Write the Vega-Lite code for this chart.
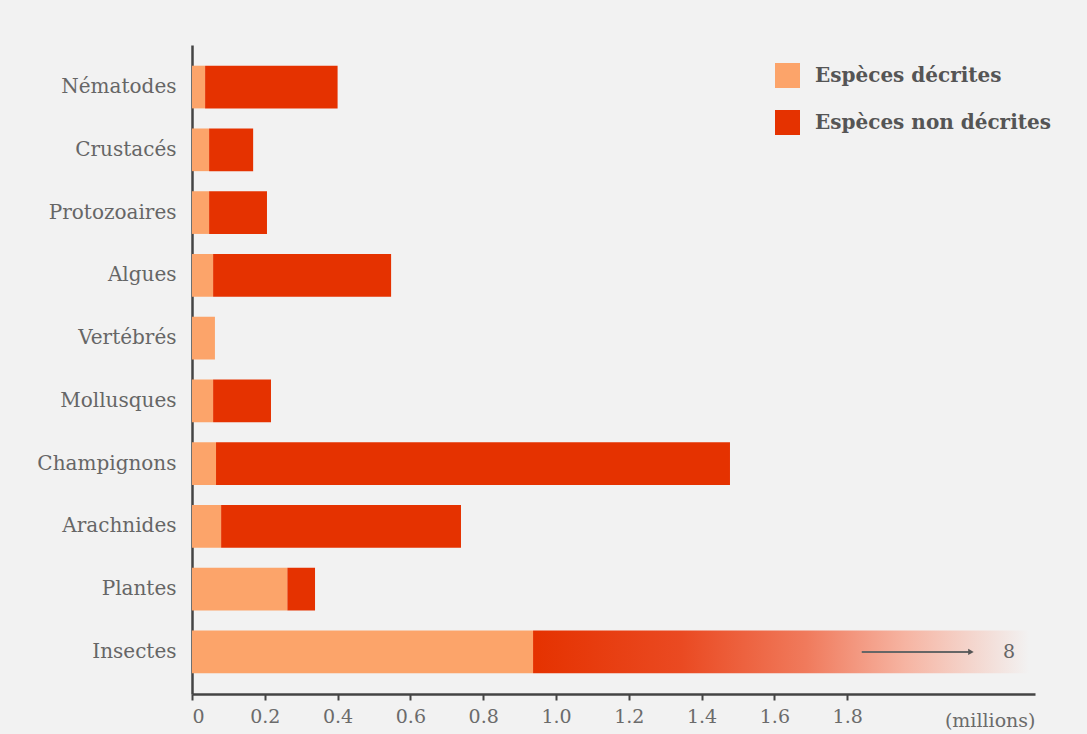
{
  "$schema": "https://vega.github.io/schema/vega-lite/v6.json",
  "width": 843,
  "height": 649,
  "autosize": "none",
  "padding": {"left": 192, "top": 45, "right": 52, "bottom": 40},
  "background": "#f2f2f2",
  "config": {
    "view": {"stroke": null},
    "font": "DejaVu Serif"
  },
  "datasets": {
    "species": [
      {"category": "Nématodes", "type": "Espèces décrites", "value": 0.036},
      {"category": "Nématodes", "type": "Espèces non décrites", "value": 0.364},
      {"category": "Crustacés", "type": "Espèces décrites", "value": 0.047},
      {"category": "Crustacés", "type": "Espèces non décrites", "value": 0.121},
      {"category": "Protozoaires", "type": "Espèces décrites", "value": 0.047},
      {"category": "Protozoaires", "type": "Espèces non décrites", "value": 0.159},
      {"category": "Algues", "type": "Espèces décrites", "value": 0.058},
      {"category": "Algues", "type": "Espèces non décrites", "value": 0.489},
      {"category": "Vertébrés", "type": "Espèces décrites", "value": 0.063},
      {"category": "Vertébrés", "type": "Espèces non décrites", "value": 0.0},
      {"category": "Mollusques", "type": "Espèces décrites", "value": 0.058},
      {"category": "Mollusques", "type": "Espèces non décrites", "value": 0.159},
      {"category": "Champignons", "type": "Espèces décrites", "value": 0.066},
      {"category": "Champignons", "type": "Espèces non décrites", "value": 1.412},
      {"category": "Arachnides", "type": "Espèces décrites", "value": 0.08},
      {"category": "Arachnides", "type": "Espèces non décrites", "value": 0.659},
      {"category": "Plantes", "type": "Espèces décrites", "value": 0.262},
      {"category": "Plantes", "type": "Espèces non décrites", "value": 0.076},
      {"category": "Insectes", "type": "Espèces décrites", "value": 0.937},
      {"category": "Insectes", "type": "Espèces non décrites", "value": 1.363}
    ],
    "arrow": [
      {"category": "Insectes", "from": 1.84, "to": 2.14, "label": "8", "labelAt": 2.245}
    ]
  },
  "encoding": {
    "y": {
      "field": "category",
      "type": "nominal",
      "sort": ["Nématodes", "Crustacés", "Protozoaires", "Algues", "Vertébrés", "Mollusques", "Champignons", "Arachnides", "Plantes", "Insectes"],
      "scale": {"paddingInner": 0.32, "paddingOuter": 0.33},
      "axis": {
        "title": null,
        "ticks": false,
        "domainColor": "#444444",
        "domainWidth": 2.5,
        "labelFont": "DejaVu Serif",
        "labelFontSize": 20,
        "labelColor": "#666666",
        "labelPadding": 16
      }
    }
  },
  "layer": [
    {
      "data": {"name": "species"},
      "transform": [
        {"stack": "value", "groupby": ["category"], "sort": [{"field": "type", "order": "ascending"}], "as": ["x0", "x1"]},
        {"filter": "!(datum.category === 'Insectes' && datum.type === 'Espèces non décrites')"}
      ],
      "mark": {"type": "bar"},
      "encoding": {
        "x": {
          "field": "x0",
          "type": "quantitative",
          "scale": {"domain": [0, 2.316], "nice": false, "zero": true},
          "axis": {
            "values": [0, 0.2, 0.4, 0.6, 0.8, 1.0, 1.2, 1.4, 1.6, 1.8],
            "labelExpr": "datum.value === 0 ? '0' : format(datum.value, '.1f')",
            "grid": false,
            "domainColor": "#444444",
            "domainWidth": 2.5,
            "tickColor": "#444444",
            "tickWidth": 2,
            "tickSize": 6,
            "labelFont": "DejaVu Serif",
            "labelFontSize": 19,
            "labelColor": "#6b6b6b",
            "labelPadding": 7,
            "title": "(millions)",
            "titleFont": "DejaVu Serif",
            "titleFontSize": 19,
            "titleFontWeight": "normal",
            "titleColor": "#6b6b6b",
            "titleAnchor": "end",
            "titleAlign": "right",
            "titleBaseline": "alphabetic",
            "titleY": 32
          }
        },
        "x2": {"field": "x1"},
        "color": {
          "field": "type",
          "type": "nominal",
          "scale": {"domain": ["Espèces décrites", "Espèces non décrites"], "range": ["#fca46a", "#e53200"]},
          "legend": {
            "title": null,
            "orient": "none",
            "legendX": 583,
            "legendY": 18,
            "symbolType": "square",
            "symbolSize": 625,
            "symbolStrokeWidth": 0,
            "symbolOpacity": 1,
            "rowPadding": 22,
            "labelOffset": 15,
            "labelFont": "DejaVu Serif",
            "labelFontSize": 20,
            "labelFontWeight": "bold",
            "labelColor": "#555555",
            "labelLimit": 400
          }
        }
      }
    },
    {
      "data": {"name": "species"},
      "transform": [
        {"stack": "value", "groupby": ["category"], "sort": [{"field": "type", "order": "ascending"}], "as": ["x0", "x1"]},
        {"filter": "datum.category === 'Insectes' && datum.type === 'Espèces non décrites'"}
      ],
      "mark": {
        "type": "bar",
        "color": {
          "gradient": "linear",
          "x1": 0, "y1": 0, "x2": 1, "y2": 0,
          "stops": [
            {"offset": 0, "color": "#e53200"},
            {"offset": 0.3, "color": "#ea4a22"},
            {"offset": 0.55, "color": "#f07a5c"},
            {"offset": 0.75, "color": "#f6b4a2"},
            {"offset": 1, "color": "#f2f2f2"}
          ]
        }
      },
      "encoding": {
        "x": {"field": "x0", "type": "quantitative"},
        "x2": {"field": "x1"}
      }
    },
    {
      "data": {"name": "arrow"},
      "mark": {"type": "rule", "color": "#666666", "strokeWidth": 2},
      "encoding": {
        "x": {"field": "from", "type": "quantitative"},
        "x2": {"field": "to"}
      }
    },
    {
      "data": {"name": "arrow"},
      "mark": {"type": "point", "shape": "triangle-right", "filled": true, "color": "#555555", "size": 40, "opacity": 1},
      "encoding": {
        "x": {"field": "to", "type": "quantitative"}
      }
    },
    {
      "data": {"name": "arrow"},
      "mark": {"type": "text", "font": "DejaVu Serif", "fontSize": 19, "color": "#666666", "align": "center", "baseline": "middle"},
      "encoding": {
        "x": {"field": "labelAt", "type": "quantitative"},
        "text": {"field": "label"}
      }
    }
  ]
}
